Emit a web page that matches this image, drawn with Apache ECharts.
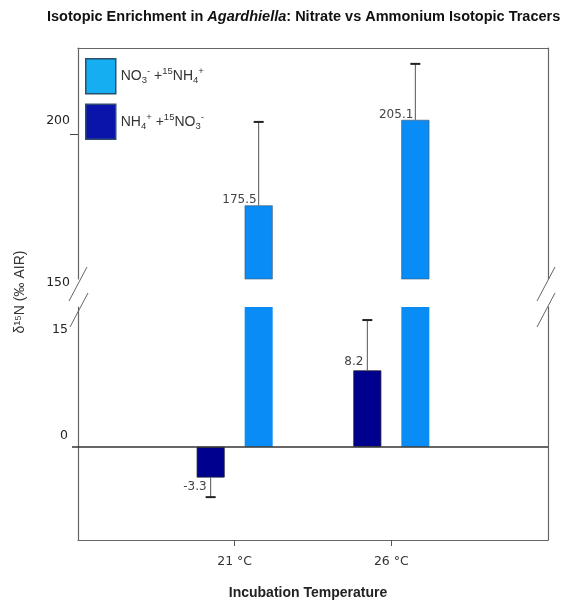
<!DOCTYPE html>
<html><head><meta charset="utf-8">
<script src="https://cdn.jsdelivr.net/npm/echarts@6/dist/echarts.min.js"></script>
<style>html,body{margin:0;padding:0;background:#fff}#c{width:563px;height:604px}</style>
</head><body><div id="c"></div>
<script>
// ---- data ----
const categories = ['21 °C', '26 °C'];
const nameLight = 'NO₃⁻ +¹⁵NH₄⁺';
const nameDark = 'NH₄⁺ +¹⁵NO₃⁻';
const lightValues = [175.5, 205.1];
const lightErrors = [28.9, 19.4];
const darkValues = [-3.3, 8.2];
const darkErrors = [2.1, 5.4];
const upperTickLabels = [150, 200];
const lowerTickLabels = [0, 15];

// ---- layout constants ----
const L = 78, R = 15, UP_TOP = 48, UP_H = 231, LO_TOP = 307, LO_H = 233;
const BAR_W = 28, GAP_PX = 20;
const OFF = (BAR_W + GAP_PX) / 2;
const FRAME = '#666';
const FONT = '"Liberation Sans", Arial, sans-serif';
const DV = '"DejaVu Sans", Verdana, sans-serif';

const axisCats = [''].concat(categories, ['']);
const pad = arr => ['-'].concat(arr, ['-']);

function errRenderer(offset) {
  return function (params, api) {
    const cat = api.value(0), v = api.value(1), e = api.value(2);
    const end = v >= 0 ? v + e : v - e;
    const p0 = api.coord([cat, v]);
    const p1 = api.coord([cat, end]);
    const x = p0[0] + offset;
    return {type: 'group', children: [
      {type: 'line', shape: {x1: x, y1: p0[1], x2: x, y2: p1[1]}, style: {stroke: '#555', lineWidth: 1}},
      {type: 'line', shape: {x1: x - 5, y1: p1[1], x2: x + 5, y2: p1[1]}, style: {stroke: '#222', lineWidth: 2}}
    ]};
  };
}

const labelBase = {show: true, position: 'outside', align: 'right', color: '#444', fontSize: 12, fontFamily: DV};

// legend rich text (sub/superscripts)
const legendRich = {};
legendRich[nameLight] = 'NO{sb|3}{sp|-} +{sp|15}NH{sb|4}{sp|+}';
legendRich[nameDark] = 'NH{sb|4}{sp|+} +{sp|15}NO{sb|3}{sp|-}';

// tick label vertical nudges (match reference placement)
const tickRich = {
  up13: {padding: [0, 0, 27, 0]},
  up11: {padding: [0, 0, 22, 0]},
  dn4: {padding: [8, 0, 0, 0]},
  dn23: {padding: [46, 0, 0, 0]}
};
const tickStyleKey = {200: 'up13', 150: 'dn4', 15: 'dn23', 0: 'up11'};

const chart = echarts.init(document.getElementById('c'), null, {renderer: 'canvas'});
const W = 563;
const slash = (x, y) => ({type: 'line', shape: {x1: x - 9, y1: y + 17, x2: x + 9, y2: y - 17}, style: {stroke: '#666', lineWidth: 1}});

chart.setOption({
  animation: false,
  backgroundColor: '#fff',
  title: {
    text: '{a|Isotopic Enrichment in }{i|Agardhiella}{a|: Nitrate vs Ammonium Isotopic Tracers}',
    left: 42, top: 4,
    textStyle: {
      rich: {
        a: {fontFamily: FONT, fontWeight: 'bold', fontSize: 14.5, color: '#111'},
        i: {fontFamily: FONT, fontWeight: 'bold', fontStyle: 'italic', fontSize: 14.5, color: '#111'}
      }
    }
  },
  legend: {
    orient: 'vertical', left: 80, top: 53, itemWidth: 30, itemHeight: 35, itemGap: 9,
    icon: 'rect',
    formatter: n => legendRich[n] || n,
    textStyle: {
      fontFamily: FONT, fontSize: 14, color: '#333', lineHeight: 19,
      rich: {
        sb: {fontFamily: FONT, fontSize: 9.5, color: '#333', verticalAlign: 'bottom', lineHeight: 19},
        sp: {fontFamily: FONT, fontSize: 9.5, color: '#333', verticalAlign: 'top', lineHeight: 19}
      }
    },
    data: [
      {name: nameLight, itemStyle: {color: '#15aef0', borderColor: '#2c4f6f', borderWidth: 1.5}},
      {name: nameDark, itemStyle: {color: '#0a14a8', borderColor: '#2c4f6f', borderWidth: 1.5}}
    ],
    selectedMode: false
  },
  grid: [
    {left: L, right: R, top: UP_TOP, height: UP_H, containLabel: false},
    {left: L, right: R, top: LO_TOP, height: LO_H, containLabel: false}
  ],
  xAxis: [
    {gridIndex: 0, type: 'category', data: axisCats, boundaryGap: false, position: 'top',
     axisLine: {show: true, lineStyle: {color: FRAME, width: 1.2}}, axisTick: {show: false}, axisLabel: {show: false}},
    {gridIndex: 1, type: 'category', data: axisCats, boundaryGap: false, position: 'bottom',
     axisLine: {show: true, onZero: false, lineStyle: {color: FRAME, width: 1.2}},
     axisTick: {show: true, length: 6, interval: (i, v) => v !== '', lineStyle: {color: '#555'}},
     axisLabel: {show: true, interval: 0, margin: 15, color: '#333', fontSize: 12.5, fontFamily: DV},
     name: 'Incubation Temperature', nameLocation: 'middle', nameGap: 46,
     nameTextStyle: {fontFamily: FONT, fontWeight: 'bold', fontSize: 14, color: '#222', padding: [0, 10, 0, 0]}}
  ],
  yAxis: [
    {gridIndex: 0, type: 'value', min: 150, max: 230, interval: 10, position: 'left',
     axisLine: {show: true, lineStyle: {color: FRAME, width: 1.2}},
     axisTick: {show: true, customValues: [200], length: 8, lineStyle: {color: '#444'}},
     axisLabel: {customValues: upperTickLabels, color: '#222', fontSize: 12.5, fontFamily: DV, margin: 8,
       formatter: v => '{' + tickStyleKey[v] + '|' + v + '}', rich: tickRich},
     splitLine: {show: false}},
    {gridIndex: 0, type: 'value', min: 150, max: 230, interval: 10, position: 'right',
     axisLine: {show: true, lineStyle: {color: FRAME, width: 1.2}},
     axisTick: {show: false}, axisLabel: {show: false}, splitLine: {show: false}},
    {gridIndex: 1, type: 'value', min: -10, max: 15, interval: 5, position: 'left',
     axisLine: {show: true, onZero: false, lineStyle: {color: FRAME, width: 1.2}},
     axisTick: {show: true, customValues: [0], length: 6, lineStyle: {color: '#333', width: 1.5}},
     axisLabel: {customValues: lowerTickLabels, color: '#222', fontSize: 12.5, fontFamily: DV, margin: 10,
       formatter: v => '{' + tickStyleKey[v] + '|' + v + '}', rich: tickRich},
     splitLine: {show: false}},
    {gridIndex: 1, type: 'value', min: -10, max: 15, interval: 5, position: 'right',
     axisLine: {show: true, onZero: false, lineStyle: {color: FRAME, width: 1.2}},
     axisTick: {show: false}, axisLabel: {show: false}, splitLine: {show: false}}
  ],
  series: [
    {type: 'bar', name: nameDark, xAxisIndex: 1, yAxisIndex: 2, data: pad(darkValues),
     barWidth: BAR_W, barGap: (GAP_PX / BAR_W * 100) + '%',
     itemStyle: {color: '#00008f', borderColor: '#223', borderWidth: 0.8},
     label: Object.assign({}, labelBase, {distance: 3, offset: [-4, 0]})},
    {type: 'bar', name: nameLight, xAxisIndex: 1, yAxisIndex: 2, data: pad(lightValues),
     barWidth: BAR_W, barGap: (GAP_PX / BAR_W * 100) + '%',
     itemStyle: {color: '#0a8cf6'},
     label: {show: false}},
    {type: 'bar', name: nameDark, xAxisIndex: 0, yAxisIndex: 0, data: pad(darkValues.map(() => '-')),
     barWidth: BAR_W, barGap: (GAP_PX / BAR_W * 100) + '%',
     itemStyle: {color: '#00008f'}},
    {type: 'bar', name: nameLight, xAxisIndex: 0, yAxisIndex: 0, data: pad(lightValues),
     barWidth: BAR_W, barGap: (GAP_PX / BAR_W * 100) + '%',
     itemStyle: {color: '#0a8cf6', borderColor: '#3a5470', borderWidth: 0.6},
     label: Object.assign({}, labelBase, {distance: -1, offset: [-2, 0]})},
    {type: 'custom', name: nameDark, xAxisIndex: 1, yAxisIndex: 2, clip: true, z: 5,
     renderItem: errRenderer(-OFF),
     data: categories.map((c, i) => [c, darkValues[i], darkErrors[i]]),
     markLine: {silent: true, symbol: 'none', label: {show: false},
       lineStyle: {color: '#333', width: 1.5, type: 'solid'}, data: [{yAxis: 0}]}},
    {type: 'custom', name: nameLight, xAxisIndex: 0, yAxisIndex: 0, clip: true, z: 5,
     renderItem: errRenderer(OFF),
     data: categories.map((c, i) => [c, lightValues[i], lightErrors[i]])}
  ],
  graphic: [
    {type: 'text', x: 20, y: 292, rotation: Math.PI / 2,
     style: {text: 'δ¹⁵N (‰ AIR)', font: '14px ' + FONT, fill: '#333', align: 'center', verticalAlign: 'middle'}},
    slash(L, 284), slash(L + 1, 310),
    slash(W - R - 2, 284), slash(W - R - 2, 310)
  ]
});
</script></body></html>
